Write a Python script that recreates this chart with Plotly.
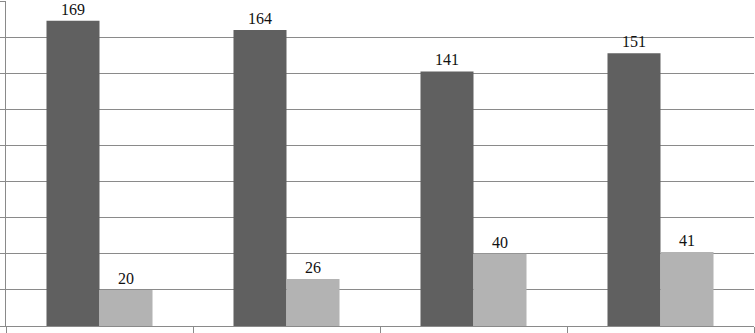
import plotly.graph_objects as go

categories = ["A", "B", "C", "D"]
series_dark = [169, 164, 141, 151]
series_light = [20, 26, 40, 41]
y_ticks = [0, 20, 40, 60, 80, 100, 120, 140, 160, 180]

SERIF = "Liberation Serif, Times New Roman, DejaVu Serif, serif"

fig = go.Figure()
fig.add_trace(go.Bar(x=categories, y=series_dark, marker_color="#606060",
                     marker_line_width=0, text=series_dark, textposition="outside",
                     textfont=dict(family=SERIF, size=16, color="#111111"),
                     cliponaxis=False))
fig.add_trace(go.Bar(x=categories, y=series_light, marker_color="#b3b3b3",
                     marker_line_width=0, text=series_light, textposition="outside",
                     textfont=dict(family=SERIF, size=16, color="#111111"),
                     cliponaxis=False))

fig.update_layout(
    width=755, height=333,
    margin=dict(l=6, r=1, t=1, b=7),
    barmode="group", bargap=0.433, bargroupgap=0,
    showlegend=False,
    plot_bgcolor="white", paper_bgcolor="white",
    font=dict(family=SERIF),
)
fig.update_xaxes(type="category", range=[-0.5, 3.5], showticklabels=False,
                 showline=True, linecolor="#8a8a8a", linewidth=1,
                 ticks="outside", tickson="boundaries", ticklen=7,
                 tickcolor="#8a8a8a", showgrid=False)
fig.update_yaxes(range=[0, 180], tickvals=y_ticks, showticklabels=False,
                 showline=True, linecolor="#8a8a8a", linewidth=1,
                 ticks="outside", ticklen=6, tickcolor="#8a8a8a",
                 showgrid=True, gridcolor="#8a8a8a", gridwidth=1,
                 zeroline=False)

fig.write_html("out.html", config={"displayModeBar": False},
               post_script="document.body.style.margin='0';document.body.style.padding='0';")
